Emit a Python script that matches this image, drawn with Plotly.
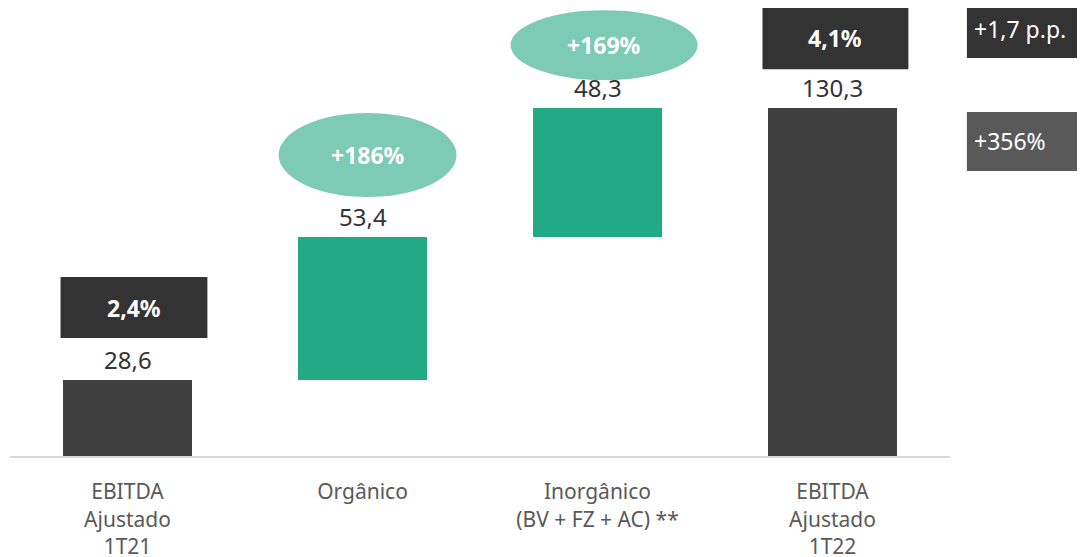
""" Ponte do EBITDA Ajustado 1T21 -> 1T22 (waterfall) """

import plotly.graph_objects as go

# dados
categories = ["EBITDA<br>Ajustado<br>1T21", "Orgânico", "Inorgânico<br>(BV + FZ + AC) **", "EBITDA<br>Ajustado<br>1T22"]
values = [28.6, 53.4, 48.3, 130.3]
value_labels = ["28,6", "53,4", "48,3", "130,3"]
kind = ["total", "delta", "delta", "total"]
margin_labels = ["2,4%", "4,1%"]
growth_labels = ["+186%", "+169%"]
side_labels = ["+1,7 p.p.", "+356%"]

DARK = "#404040"
GREEN = "#22aa84"
LIGHT_GREEN = "#7dcbb5"
FONT = "Noto Sans"

# base de cada barra (cascata)
bases = []
running = 0
for v, k in zip(values, kind):
    if k == "total":
        bases.append(0)
        running = v
    else:
        bases.append(running)
        running += v
heights = values
colors = [DARK if k == "total" else GREEN for k in kind]
x = list(range(len(categories)))

fig = go.Figure()
fig.add_trace(go.Bar(x=x, y=heights, base=bases, marker_color=colors,
                     marker_line_width=0, width=0.553, hoverinfo="skip"))

# rótulos de valor acima das barras
for i, lbl in enumerate(value_labels):
    fig.add_annotation(x=i, y=bases[i] + heights[i], text=lbl, showarrow=False,
                       yanchor="bottom", yshift=2,
                       font=dict(family=FONT, size=24, color="#333333"))

# caixas de margem
box_pos = [(-0.285, 0.34, 44.2, 67.0), (2.702, 3.323, 144.9, 168.2)]
for (x0, x1, y0, y1), lbl in zip(box_pos, margin_labels):
    fig.add_shape(type="rect", x0=x0, x1=x1, y0=y0, y1=y1, xref="x", yref="y",
                  fillcolor="#333333", line_width=0)
    fig.add_annotation(x=(x0 + x1) / 2, y=(y0 + y1) / 2, text="<b>" + lbl + "</b>",
                       showarrow=False, yanchor="middle",
                       font=dict(family=FONT, size=23, color="white"))

# elipses de crescimento
ell_pos = [(0.643, 1.400, 97.0, 128.5), (1.630, 2.426, 140.8, 167.0)]
for (x0, x1, y0, y1), lbl in zip(ell_pos, growth_labels):
    fig.add_shape(type="circle", x0=x0, x1=x1, y0=y0, y1=y1, xref="x", yref="y",
                  fillcolor=LIGHT_GREEN, line_width=0)
    fig.add_annotation(x=(x0 + x1) / 2, y=(y0 + y1) / 2, text="<b>" + lbl + "</b>",
                       showarrow=False, yanchor="middle",
                       font=dict(family=FONT, size=23, color="white"))

# caixas laterais
side_pos = [(0.8884, 1.0179, "#333333"), (0.6362, 0.7679, "#595959")]
for (y0, y1, c), lbl in zip(side_pos, side_labels):
    fig.add_shape(type="rect", x0=1.018, x1=1.16, y0=y0, y1=y1, xref="paper", yref="paper",
                  fillcolor=c, line_width=0)
    fig.add_annotation(x=1.018, y=(y0 + y1) / 2, xref="paper", yref="paper", text=lbl,
                       showarrow=False, xanchor="left", yanchor="middle", xshift=5,
                       font=dict(family=FONT, size=23, color="white"))

# título (cortado no topo)
fig.add_annotation(x=0.475, y=1, xref="paper", yref="paper",
                   text="Composição do EBITDA Ajustado (R$ milhões)",
                   showarrow=False, yanchor="bottom", yshift=-3,
                   font=dict(family=FONT, size=22, color="#333333"))

fig.update_layout(
    width=1085, height=557,
    margin=dict(l=2, r=143, t=0, b=109),
    plot_bgcolor="white", paper_bgcolor="white",
    showlegend=False,
    bargap=0,
)
fig.update_xaxes(range=[-0.5, 3.5], tickvals=x, ticktext=categories,
                 showline=True, linecolor="#d9d9d9", linewidth=2,
                 showgrid=False, zeroline=False, ticks="", ticklabelstandoff=16,
                 tickfont=dict(family=FONT, size=21, color="#595959"))
fig.update_yaxes(range=[0, 167.8], visible=False, showgrid=False)

fig.write_html("out.html")
